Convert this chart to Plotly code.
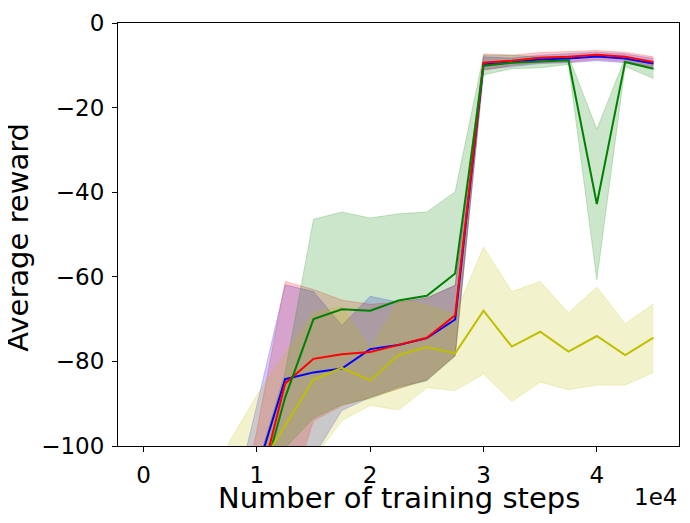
import plotly.graph_objects as go

# training steps
steps = [0, 2500, 5000, 7500, 10000, 12500, 15000, 17500, 20000, 22500,
         25000, 27500, 30000, 32500, 35000, 37500, 40000, 42500, 45000]

# blue run
blue_mean = [-180, -172, -160, -140, -106, -84.2, -82.6, -81.7, -77.1, -76.1,
             -74.5, -70.1, -9.8, -9.3, -8.6, -8.4, -7.9, -8.4, -9.6]
blue_upper = [-165, -155, -140, -118, -90.4, -61.9, -63.5, -71.5, -64.6, -66.0,
              -65.0, -62.0, -8.0, -8.3, -7.6, -7.3, -6.9, -7.3, -8.4]
blue_lower = [-195, -188, -180, -162, -125, -108, -102.5, -91.6, -88.5, -86.0,
              -84.5, -78.5, -11.0, -10.3, -9.6, -9.4, -8.9, -9.4, -10.7]

# red run
red_mean = [-185, -175, -165, -145, -112, -85.2, -79.4, -78.3, -77.8, -76.1,
            -74.4, -69.1, -9.4, -8.9, -8.2, -8.0, -7.5, -8.0, -9.2]
red_upper = [-170, -160, -148, -128, -96.4, -61.1, -63.0, -65.5, -66.5, -66.0,
             -65.0, -62.0, -7.3, -7.6, -7.0, -6.8, -6.5, -6.9, -8.0]
red_lower = [-200, -190, -182, -165, -128, -115, -94.0, -90.5, -88.5, -86.5,
             -84.2, -78.7, -11.2, -10.0, -9.4, -9.2, -8.6, -9.1, -10.4]

# green run
green_mean = [-190, -180, -168, -150, -113, -88.5, -70.0, -67.7, -68.0, -65.6,
              -64.5, -59.2, -10.1, -9.4, -9.1, -8.8, -42.8, -9.2, -10.8]
green_upper = [-170, -160, -150, -130, -105, -82.5, -46.4, -44.7, -46.1, -45.1,
               -44.7, -39.9, -7.6, -7.6, -8.0, -7.8, -25.1, -8.2, -9.2]
green_lower = [-210, -200, -190, -170, -125, -100.5, -93.4, -90.2, -88.8, -86.3,
               -84.6, -78.8, -12.3, -10.8, -10.6, -9.8, -60.7, -10.3, -13.1]

# yellow run
yellow_mean = [-175, -160, -140, -120, -106, -95.2, -84.3, -81.5, -84.5, -78.5,
               -76.6, -78.1, -68.0, -76.5, -73.0, -77.7, -74.0, -78.5, -74.4]
yellow_upper = [-150, -140, -135, -99.4, -88.0, -78.0, -68.3, -67.0, -77.0, -65.6,
                -66.6, -69.0, -52.9, -63.5, -61.1, -68.5, -62.4, -71.1, -66.4]
yellow_lower = [-200, -190, -170, -145, -122, -112, -103, -94.0, -90.4, -91.5,
                -86.2, -86.9, -83.0, -89.5, -84.9, -86.7, -85.6, -85.6, -82.6]

x_ticks = [0, 10000, 20000, 30000, 40000]
x_tick_text = ["0", "1", "2", "3", "4"]
y_ticks = [0, -20, -40, -60, -80, -100]

runs = [
    (blue_mean, blue_upper, blue_lower, (0, 0, 255)),
    (red_mean, red_upper, red_lower, (255, 0, 0)),
    (green_mean, green_upper, green_lower, (0, 128, 0)),
    (yellow_mean, yellow_upper, yellow_lower, (191, 191, 0)),
]

FONT = "DejaVu Sans"

fig = go.Figure()

# shaded bands first, like fill_between with alpha 0.2
for mean, upper, lower, (r, g, b) in runs:
    band = f"rgba({r},{g},{b},0.2)"
    fig.add_trace(go.Scatter(x=steps, y=lower, mode="lines",
                             line=dict(color=band, width=1),
                             hoverinfo="skip", showlegend=False))
    fig.add_trace(go.Scatter(x=steps, y=upper, mode="lines", fill="tonexty",
                             fillcolor=band, line=dict(color=band, width=1),
                             hoverinfo="skip", showlegend=False))

for mean, upper, lower, (r, g, b) in runs:
    fig.add_trace(go.Scatter(x=steps, y=mean, mode="lines",
                             line=dict(color=f"rgb({r},{g},{b})", width=2),
                             showlegend=False))

axis_common = dict(
    showline=True, mirror=True, linecolor="black", linewidth=1.1,
    ticks="outside", ticklen=5, tickwidth=1.1, tickcolor="black",
    showgrid=False, zeroline=False, ticklabelstandoff=3,
    ticklabeloverflow="allow",
    tickfont=dict(family=FONT, size=23, color="black"),
)

fig.update_xaxes(range=[-2250, 47250], tickvals=x_ticks, ticktext=x_tick_text,
                 **axis_common)
fig.update_yaxes(range=[-100, 0], tickvals=y_ticks, **axis_common)

# page body has an 8px margin, so the figure is sized to fit inside it
fig.update_layout(
    width=674, height=507,
    margin=dict(l=110, r=2, t=11, b=69),
    plot_bgcolor="white", paper_bgcolor="white",
    font=dict(family=FONT, color="black"),
    annotations=[
        dict(text="Number of training steps", xref="paper", yref="paper",
             x=0.5, y=-0.0785, xanchor="center", yanchor="top",
             showarrow=False, font=dict(size=29)),
        dict(text="Average reward", xref="paper", yref="paper",
             x=-0.1788, y=0.494, xanchor="center", yanchor="middle", textangle=-90,
             showarrow=False, font=dict(size=29)),
        dict(text="1e4", xref="paper", yref="paper",
             x=1.0, y=-0.084, xanchor="right", yanchor="top",
             showarrow=False, font=dict(size=23)),
    ],
)

fig.write_html("out.html")
